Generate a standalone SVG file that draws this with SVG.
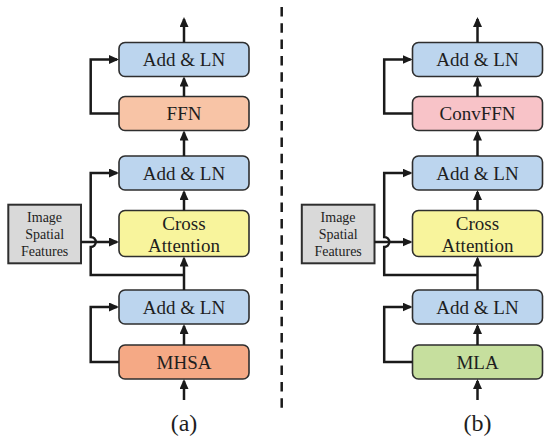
<svg xmlns="http://www.w3.org/2000/svg" width="550" height="443" viewBox="0 0 550 443">
<defs>
<marker id="ah" viewBox="0 0 10 9" refX="8" refY="4.5" markerWidth="10" markerHeight="9" markerUnits="userSpaceOnUse" orient="auto">
<path d="M0,0 L10,4.5 L0,9 z" fill="#1a1a1a"/>
</marker>
<style>
.box{stroke:#2e2e2e;stroke-width:1.6}
.aln{fill:#bcd5ee}
.ffn{fill:#f8c4a6}
.mhsa{fill:#f5a985}
.cross{fill:#f8f49c}
.conv{fill:#f8c3c8}
.mla{fill:#c6df9e}
.img{fill:#d9d9d9;stroke:#2e2e2e;stroke-width:2}
.t{font-family:"Liberation Serif","Times New Roman",serif;font-size:19px;fill:#1e1e1e;text-anchor:middle}
.s{font-family:"Liberation Serif","Times New Roman",serif;font-size:14px;fill:#1e1e1e;text-anchor:middle}
.lbl{font-family:"Liberation Serif","Times New Roman",serif;font-size:24px;fill:#1e1e1e;text-anchor:middle}
.c{fill:none;stroke:#1a1a1a;stroke-width:2.5}
.a{marker-end:url(#ah)}
</style>
</defs>

<!-- Left panel (a) -->
<g id="a-aln1"><rect class="box aln" x="119" y="42.5" width="130" height="34" rx="6"/><text class="t" x="184" y="66">Add &amp; LN</text></g>
<g id="a-ffn"><rect class="box ffn" x="119" y="96.5" width="130" height="34" rx="6"/><text class="t" x="184" y="120">FFN</text></g>
<g id="a-aln2"><rect class="box aln" x="119" y="156" width="130" height="34" rx="6"/><text class="t" x="184" y="179.5">Add &amp; LN</text></g>
<g id="a-cross"><rect class="box cross" x="119" y="210.5" width="130" height="46" rx="6"/><text class="t" x="184" y="230">Cross</text><text class="t" x="184" y="251.5">Attention</text></g>
<g id="a-aln3"><rect class="box aln" x="119" y="290" width="130" height="34" rx="6"/><text class="t" x="184" y="313.5">Add &amp; LN</text></g>
<g id="a-mhsa"><rect class="box mhsa" x="119" y="345" width="130" height="34" rx="6"/><text class="t" x="184" y="368.5">MHSA</text></g>
<g id="a-img"><rect class="img" x="8.3" y="204.7" width="72.7" height="58.6"/><text class="s" x="44.6" y="222.3">Image</text><text class="s" x="44.6" y="239">Spatial</text><text class="s" x="44.6" y="256">Features</text></g>
<text class="lbl" x="184" y="431">(a)</text>

<!-- Right panel (b) -->
<g id="b-aln1"><rect class="box aln" x="412.5" y="42.5" width="130" height="34" rx="6"/><text class="t" x="477.5" y="66">Add &amp; LN</text></g>
<g id="b-convffn"><rect class="box conv" x="412.5" y="96.5" width="130" height="34" rx="6"/><text class="t" x="477.5" y="120">ConvFFN</text></g>
<g id="b-aln2"><rect class="box aln" x="412.5" y="156" width="130" height="34" rx="6"/><text class="t" x="477.5" y="179.5">Add &amp; LN</text></g>
<g id="b-cross"><rect class="box cross" x="412.5" y="210.5" width="130" height="46" rx="6"/><text class="t" x="477.5" y="230">Cross</text><text class="t" x="477.5" y="251.5">Attention</text></g>
<g id="b-aln3"><rect class="box aln" x="412.5" y="290" width="130" height="34" rx="6"/><text class="t" x="477.5" y="313.5">Add &amp; LN</text></g>
<g id="b-mla"><rect class="box mla" x="412.5" y="345" width="130" height="34" rx="6"/><text class="t" x="477.5" y="368.5">MLA</text></g>
<g id="b-img"><rect class="img" x="301.8" y="204.7" width="72.7" height="58.6"/><text class="s" x="338.1" y="222.3">Image</text><text class="s" x="338.1" y="239">Spatial</text><text class="s" x="338.1" y="256">Features</text></g>
<text class="lbl" x="477.5" y="431">(b)</text>

<!-- Connectors -->
<g id="connectors">
<line x1="281.7" y1="7" x2="281.7" y2="413" stroke="#1a1a1a" stroke-width="2.5" stroke-dasharray="9.5 6.8"/>
<!-- left -->
<path class="c a" d="M184 42.5 V19"/>
<path class="c a" d="M184 96.5 V78.5"/>
<path class="c a" d="M184 156 V132.5"/>
<path class="c a" d="M184 210.5 V192"/>
<path class="c a" d="M184 290 V258.5"/>
<path class="c a" d="M184 345 V326"/>
<path class="c a" d="M184 400 V381"/>
<path class="c a" d="M119 113.5 H90.7 V59.5 H117"/>
<path class="c a" d="M184 275 H90.7 V247 A5 5 0 0 0 90.7 237 V173 H117"/>
<path class="c a" d="M81 242 H117"/>
<path class="c a" d="M119 362 H90.7 V307 H117"/>
<!-- right -->
<path class="c a" d="M477.5 42.5 V19"/>
<path class="c a" d="M477.5 96.5 V78.5"/>
<path class="c a" d="M477.5 156 V132.5"/>
<path class="c a" d="M477.5 210.5 V192"/>
<path class="c a" d="M477.5 290 V258.5"/>
<path class="c a" d="M477.5 345 V326"/>
<path class="c a" d="M477.5 400 V381"/>
<path class="c a" d="M412.5 113.5 H384.2 V59.5 H410.5"/>
<path class="c a" d="M477.5 275 H384.2 V247 A5 5 0 0 0 384.2 237 V173 H410.5"/>
<path class="c a" d="M374.5 242 H410.5"/>
<path class="c a" d="M412.5 362 H384.2 V307 H410.5"/>
</g>
</svg>
